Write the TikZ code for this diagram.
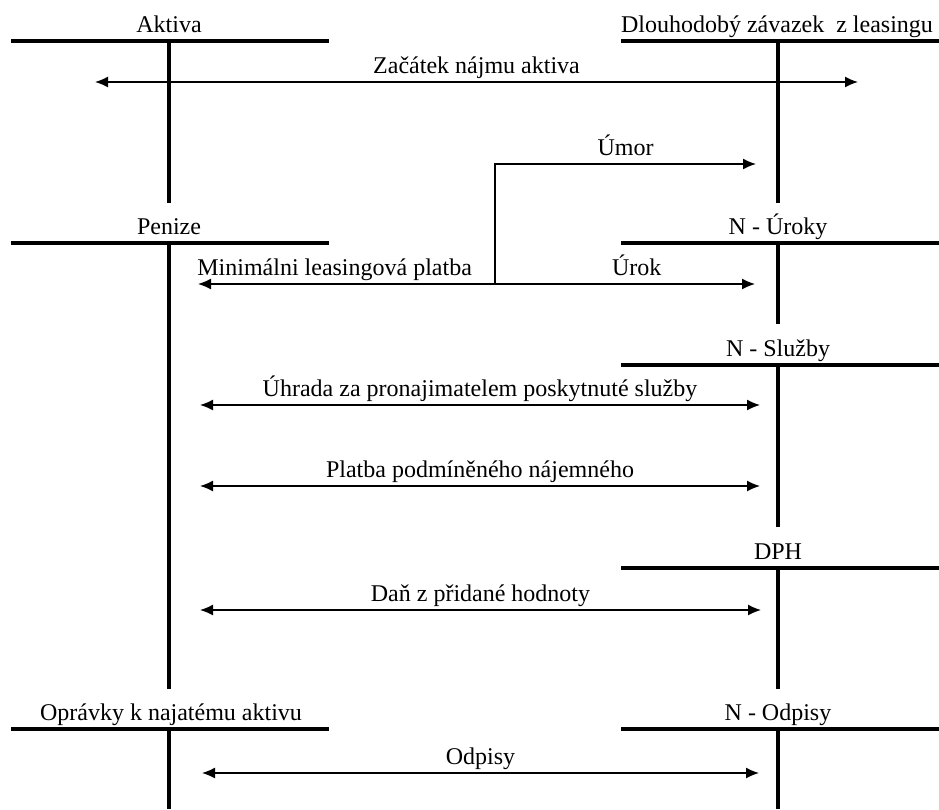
\documentclass[tikz,border=0pt]{standalone}
\usepackage{fontspec}
\setmainfont{Liberation Serif}
\usetikzlibrary{arrows.meta}
\usetikzlibrary{positioning}
\tikzstyle{account} = [line width=3.2pt]
\tikzstyle{flow} = [line width=1.4pt, {Latex[length=13pt,width=11pt]}-{Latex[length=13pt,width=11pt]}]
\tikzstyle{oneway} = [line width=1.4pt, -{Latex[length=13pt,width=11pt]}]
\tikzstyle{title} = [font=\fontsize{24}{27}\selectfont, inner sep=0pt, anchor=base]
\tikzstyle{lbl} = [font=\fontsize{24}{27}\selectfont, inner sep=0pt, anchor=base, yshift=9pt]

\begin{document}
\begin{tikzpicture}[x=1pt,y=-1pt]
\useasboundingbox (0,0) rectangle (939,809);

% left accounts
\node[title] (aktiva) at (169,32) {Aktiva};
\node[title] (penize) at (169,234) {Penize};
\node[title] (opravky) at (171,720) {Oprávky k najatému aktivu};
\foreach \y in {41,243,729}
  \draw[account] (11,\y) -- (329,\y);
\draw[account] (169,41) -- (169,203);
\draw[account] (169,243) -- (169,689);
\draw[account] (169,729) -- (169,809);

% right accounts
\node[title] (zavazek) at (777,32) {Dlouhodobý závazek\ \ z leasingu};
\node[title] (uroky) at (778,234) {N - Úroky};
\node[title] (sluzby) at (778,356) {N - Služby};
\node[title] (dph) at (778,559) {DPH};
\node[title] (odpisy) at (778,720) {N - Odpisy};
\foreach \y in {41,243,365,568,729}
  \draw[account] (621,\y) -- (939,\y);
\draw[account] (778,41) -- (778,203);
\draw[account] (778,243) -- (778,324);
\draw[account] (778,365) -- (778,527);
\draw[account] (778,568) -- (778,689);
\draw[account] (778,729) -- (778,809);

% flows
\coordinate (start l) at (95,82);
\coordinate (start r) at (858,82);
\draw[flow] (start l) -- node[lbl] {Začátek nájmu aktiva} (start r);

\coordinate (pay l) at (198,284);
\coordinate (split) at (495,284);
\coordinate (pay r) at (755,284);
\coordinate (umor) at (756,164);
\draw[flow] (pay l) -- (pay r);
\path (pay l) -- node[lbl, pos=0.46] {Minimálni leasingová platba} (split);
\path (split) -- node[lbl, pos=0.545] {Úrok} (pay r);
\draw[oneway] (split) |- node[lbl, pos=0.75] {Úmor} (umor);

\coordinate (serv l) at (200,405);
\coordinate (serv r) at (760,405);
\draw[flow] (serv l) -- node[lbl] {Úhrada za pronajimatelem poskytnuté služby} (serv r);

\coordinate (cond l) at (200,486);
\coordinate (cond r) at (760,486);
\draw[flow] (cond l) -- node[lbl] {Platba podmíněného nájemného} (cond r);

\coordinate (vat l) at (200,610);
\coordinate (vat r) at (761,610);
\draw[flow] (vat l) -- node[lbl] {Daň z přidané hodnoty} (vat r);

\coordinate (dep l) at (202,773);
\coordinate (dep r) at (759,773);
\draw[flow] (dep l) -- node[lbl] {Odpisy} (dep r);
\end{tikzpicture}
\end{document}
